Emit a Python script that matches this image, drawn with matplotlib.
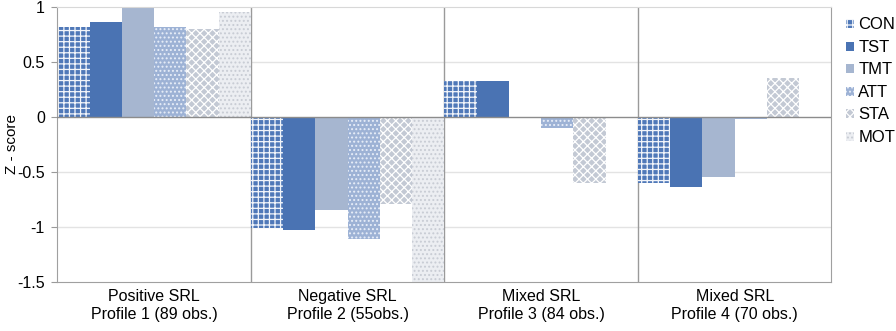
import matplotlib
matplotlib.use('Agg')
import matplotlib.pyplot as plt
import numpy as np

plt.rcParams['font.family'] = ['Liberation Sans', 'DejaVu Sans']
plt.rcParams['hatch.linewidth'] = 0.9

profiles = ['Positive SRL\nProfile 1 (89 obs.)', 'Negative SRL\nProfile 2 (55obs.)',
            'Mixed SRL\nProfile 3 (84 obs.)', 'Mixed SRL\nProfile 4 (70 obs.)']
series = ['CON', 'TST', 'TMT', 'ATT', 'STA', 'MOT']
con = [0.82, -1.01, 0.33, -0.60]
tst = [0.86, -1.03, 0.33, -0.64]
tmt = [1.02, -0.85, -0.01, -0.55]
att = [0.82, -1.11, -0.10, -0.02]
sta = [0.80, -0.79, -0.60, 0.35]
mot = [0.95, -1.50, -0.01, -0.01]
values = [con, tst, tmt, att, sta, mot]

faces = ['#4f78b8', '#4a73b3', '#a6b6d0', '#9db2d5', '#c3c9d4', '#eceef2']
hatch_cols = ['#f2f5fa', '#4a73b3', '#a6b6d0', '#e8eef8', 'white', '#c8ccd4']
hatches = ['+++', None, None, '....', 'xxxx', '....']

fig = plt.figure(figsize=(8.96, 3.31), dpi=100)
ax = fig.add_axes([0.064, 0.148, 0.864, 0.831])

x = np.arange(len(profiles))
w = 1 / 6
for j, name in enumerate(series):
    ax.bar(x + (j - 2.5) * w, values[j], width=w, color=faces[j],
           edgecolor=hatch_cols[j], hatch=hatches[j], linewidth=0, label=name, zorder=2)

ax.set_xlim(-0.5, 3.5)
ax.set_ylim(-1.5, 1)
ax.set_yticks([-1.5, -1, -0.5, 0, 0.5, 1])
ax.set_yticklabels(['-1.5', '-1', '-0.5', '0', '0.5', '1'], fontsize=11.5)
for yv in [-1, -0.5, 0.5]:
    ax.axhline(yv, color='#e3e3e3', lw=1, zorder=0)
ax.axhline(0, color='#8c8c8c', lw=1, zorder=3)
for xv in [0.5, 1.5, 2.5]:
    ax.axvline(xv, color='#9a9a9a', lw=1, zorder=1)

ax.set_xticks(x)
ax.set_xticklabels(profiles, fontsize=11.5, linespacing=1.25)
ax.tick_params(axis='x', length=0, pad=5)
ax.tick_params(axis='y', length=4, color='#9a9a9a', pad=5)
for s in ax.spines.values():
    s.set_color('#a0a0a0')
ax.spines['top'].set_color('#d8d8d8')
ax.set_ylabel('Z - score', fontsize=11)
ax.yaxis.set_label_coords(-0.05, 0.5)

ax.legend(loc='center left', bbox_to_anchor=(1.0, 0.73), frameon=False,
          handlelength=0.45, handleheight=0.45, handletextpad=0.25,
          labelspacing=0.45, fontsize=12)

fig.savefig('out.png', dpi=100)
